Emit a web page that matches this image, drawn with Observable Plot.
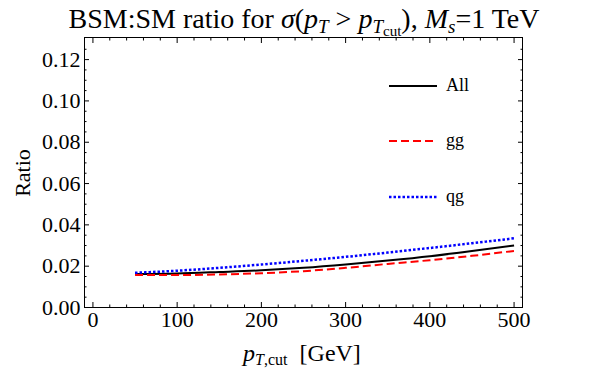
<!DOCTYPE html>
<html><head><meta charset="utf-8">
<script src="https://cdn.jsdelivr.net/npm/d3@7"></script>
<script src="https://cdn.jsdelivr.net/npm/@observablehq/plot@0.6"></script>
<style>body{margin:0;background:#fff} svg{display:block}</style>
</head><body><div id="chart"></div>
<script>
// Data
const ptCut = [50, 100, 150, 200, 250, 300, 350, 400, 450, 500];
const ratioAll = [0.0162, 0.0165, 0.0172, 0.0180, 0.0192, 0.0208, 0.0227, 0.0248, 0.0273, 0.0300];
const ratioGG  = [0.0157, 0.0157, 0.0160, 0.0166, 0.0176, 0.0192, 0.0211, 0.0229, 0.0250, 0.0274];
const ratioQG  = [0.0168, 0.0178, 0.0192, 0.0208, 0.0226, 0.0245, 0.0266, 0.0288, 0.0311, 0.0335];
const seriesNames = ["All", "gg", "qg"];
const xTicks = [0, 100, 200, 300, 400, 500];
const xMinorTicks = [20, 40, 60, 80, 120, 140, 160, 180, 220, 240, 260, 280, 320, 340, 360, 380, 420, 440, 460, 480];
const yTicks = [0, 0.02, 0.04, 0.06, 0.08, 0.10, 0.12];
const yMinorTicks = [0.005, 0.01, 0.015, 0.025, 0.03, 0.035, 0.045, 0.05, 0.055, 0.065, 0.07, 0.075, 0.085, 0.09, 0.095, 0.105, 0.11, 0.115, 0.125];

const styles = {
  All: {stroke: "#000000", strokeWidth: 2, dash: null},
  gg: {stroke: "#ff0000", strokeWidth: 2, dash: "8,4"},
  qg: {stroke: "#0000ff", strokeWidth: 2.5, dash: "2.5,2"}
};
const seriesValues = {All: ratioAll, gg: ratioGG, qg: ratioQG};
const rows = seriesNames.flatMap(s => ptCut.map((p, i) => ({series: s, pt: p, r: seriesValues[s][i]})));

const FONT = "'Liberation Serif', 'DejaVu Serif', serif";
const fmtY = d => d.toFixed(2);
const blank = () => "";

const lineMarks = seriesNames.map(s => Plot.line(rows.filter(d => d.series === s), {
  x: "pt", y: "r", stroke: styles[s].stroke, strokeWidth: styles[s].strokeWidth,
  strokeDasharray: styles[s].dash, strokeLinecap: "butt", curve: "monotone-x"
}));

const plot = Plot.plot({
  width: 600, height: 378,
  marginLeft: 84, marginRight: 78, marginTop: 37, marginBottom: 71,
  x: {domain: [-10, 510]},
  y: {domain: [0, 0.1307]},
  style: {fontFamily: FONT, fontSize: "22px", color: "black", background: "white"},
  marks: [
    ...lineMarks,
    Plot.frame({stroke: "black", strokeWidth: 1}),
    Plot.axisX(xTicks, {anchor: "bottom", tickSize: -5, tickPadding: 9, label: null, fontSize: 22}),
    Plot.axisX(xMinorTicks, {anchor: "bottom", tickSize: -2.5, tickFormat: blank, label: null}),
    Plot.axisX(xTicks, {anchor: "top", tickSize: -5, tickFormat: blank, label: null}),
    Plot.axisX(xMinorTicks, {anchor: "top", tickSize: -2.5, tickFormat: blank, label: null}),
    Plot.axisY(yTicks, {anchor: "left", tickSize: -5, tickPadding: 9, tickFormat: fmtY, label: null, fontSize: 22}),
    Plot.axisY(yMinorTicks, {anchor: "left", tickSize: -2.5, tickFormat: blank, label: null}),
    Plot.axisY(yTicks, {anchor: "right", tickSize: -5, tickFormat: blank, label: null}),
    Plot.axisY(yMinorTicks, {anchor: "right", tickSize: -2.5, tickFormat: blank, label: null})
  ]
});

document.getElementById("chart").appendChild(plot);

// Title, axis labels and legend as real text
const svg = d3.select(plot);
const title = svg.append("text")
  .attr("x", 304).attr("y", 28).attr("text-anchor", "middle")
  .attr("font-family", FONT).attr("font-size", 28).attr("fill", "black");
title.append("tspan").text("BSM:SM ratio for ");
title.append("tspan").attr("font-style", "italic").text("σ");
title.append("tspan").text("(");
title.append("tspan").attr("font-style", "italic").text("p");
title.append("tspan").attr("font-style", "italic").attr("font-size", 19).attr("dy", 5).text("T");
title.append("tspan").attr("dy", -5).text(" > ");
title.append("tspan").attr("font-style", "italic").text("p");
title.append("tspan").attr("font-style", "italic").attr("font-size", 19).attr("dy", 5).text("T");
title.append("tspan").attr("font-size", 15).attr("dy", 3).text("cut");
title.append("tspan").attr("dy", -8).text("), ");
title.append("tspan").attr("font-style", "italic").text("M");
title.append("tspan").attr("font-style", "italic").attr("font-size", 19).attr("dy", 5).text("s");
title.append("tspan").attr("dy", -5).text("=1 TeV");

svg.append("text")
  .attr("transform", "translate(30,173) rotate(-90)")
  .attr("text-anchor", "middle").attr("font-family", FONT).attr("font-size", 22)
  .attr("fill", "black").text("Ratio");

const xl = svg.append("text")
  .attr("x", 302).attr("y", 361).attr("text-anchor", "middle")
  .attr("font-family", FONT).attr("font-size", 24).attr("fill", "black");
xl.append("tspan").attr("font-style", "italic").text("p");
xl.append("tspan").attr("font-style", "italic").attr("font-size", 16).attr("dy", 4).text("T");
xl.append("tspan").attr("font-size", 16).text(",cut");
xl.append("tspan").attr("dy", -4).text("  [GeV]");

const legendY = [86, 141, 197];
seriesNames.forEach((s, i) => {
  const g = svg.append("g");
  g.append("line").attr("x1", 389).attr("x2", 437).attr("y1", legendY[i]).attr("y2", legendY[i])
    .attr("stroke", styles[s].stroke).attr("stroke-width", styles[s].strokeWidth)
    .attr("stroke-dasharray", styles[s].dash);
  g.append("text").attr("x", 446).attr("y", legendY[i] + 5).attr("text-anchor", "start")
    .attr("font-family", FONT).attr("font-size", 18).attr("fill", "black").text(s);
});
</script>
</body></html>
